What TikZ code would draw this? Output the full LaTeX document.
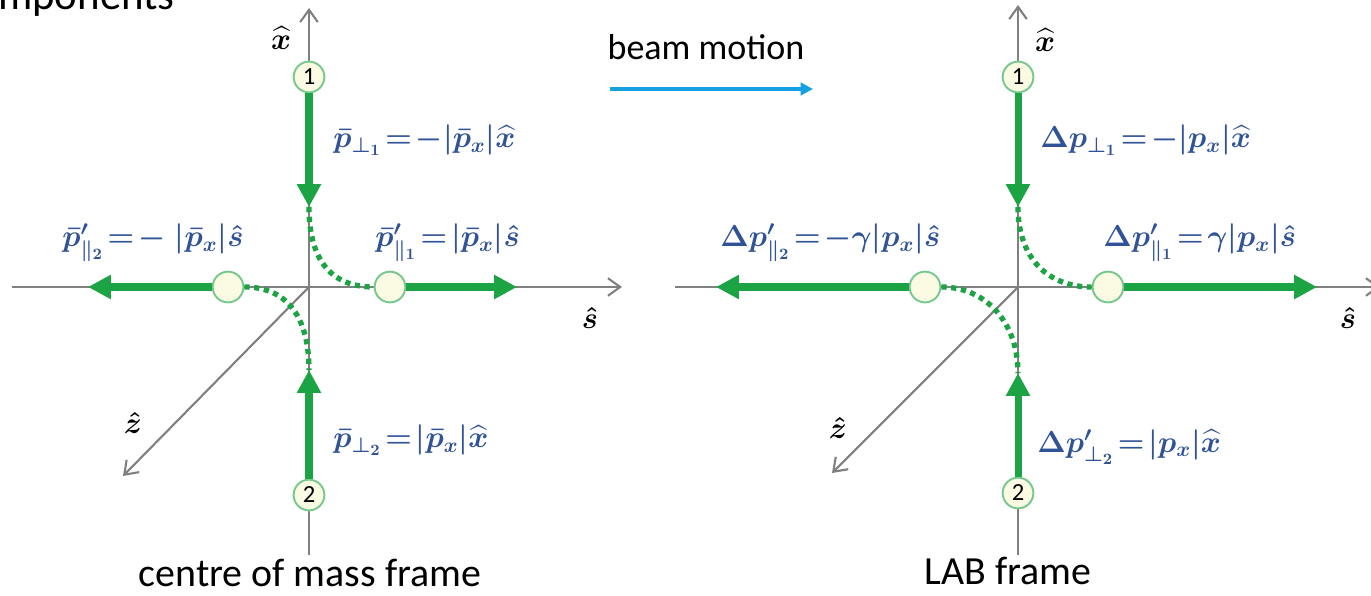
\documentclass[tikz,border=0pt]{standalone}
\usepackage{amsmath}
\usepackage{fontspec}
\setmainfont{Carlito}
\usetikzlibrary{arrows.meta}

\definecolor{pgreen}{RGB}{28,163,68}
\definecolor{lblue}{RGB}{48,82,150}
\definecolor{axisgray}{RGB}{128,128,128}
\definecolor{dotfill}{RGB}{251,250,226}
\definecolor{beamblue}{RGB}{20,160,225}

\tikzset{
  axisline/.style={axisgray, line width=1.2pt, -{Straight Barb[length=7pt,width=10pt]}},
  mom/.style={pgreen, line width=4pt, -{Triangle[length=13pt,width=13pt]}},
  track/.style={pgreen, line width=3pt, dash pattern=on 3pt off 2.6pt},
  particle/.style={circle, draw=pgreen!60, fill=dotfill, line width=1.1pt, minimum size=17.5pt, inner sep=0pt, font=\fontsize{14}{14}\selectfont},
  plabel/.style={lblue, font=\fontsize{18.5}{22}\selectfont\boldmath, anchor=west, inner sep=0pt},
  axlabel/.style={font=\fontsize{19}{22}\selectfont\boldmath, inner sep=0pt},
  framelabel/.style={font=\fontsize{22.7}{26}\selectfont, inner sep=0pt}
}

\begin{document}
\begin{tikzpicture}[x=0.02cm, y=-0.02cm]
\useasboundingbox (0,0) rectangle (1371,595);
\clip (0,0) rectangle (1371,595);

% Title, cut off at the left edge
\node[font=\fontsize{24.4}{28}\selectfont, anchor=base east, inner sep=0pt] (title) at (175,10) {Components};

% Beam direction
\node[font=\fontsize{20.5}{24}\selectfont, inner sep=0pt] (beam) at (706,47) {beam motion};
\coordinate (beamstart) at (610,89);
\coordinate (beamend) at (813,89);
\draw[beamblue, line width=2pt, -{Triangle[length=7pt,width=7pt]}] (beamstart) -- (beamend);

% ---- centre of mass frame ----
\coordinate (LO) at (309,287);
\coordinate (Ltop) at (309,8);
\coordinate (Lbot) at (309,555);
\coordinate (Lleft) at (12,287);
\coordinate (Lright) at (622,287);
\coordinate (Lz) at (123,476);
\draw[axisline] (Lbot) -- (Ltop);
\draw[axisline] (Lleft) -- (Lright);
\draw[axisline] (LO) -- (Lz);
\node[axlabel] (Lxhat) at (281,38) {$\widehat{x}$};
\node[axlabel] (Lshat) at (590,318) {$\hat{s}$};
\node[axlabel] (Lzhat) at (133,423) {$\hat{z}$};

% Particles
\node[particle] (L1) at (309,77) {1};
\node[particle] (L2) at (309,495) {2};
\node[particle] (Lr) at (390,287) {};
\node[particle] (Ll) at (228,287) {};

% Momenta
\coordinate (Ldown) at (309,207);
\coordinate (Lup) at (309,370);
\coordinate (Lrt) at (517,287);
\coordinate (Llt) at (88,287);
\draw[mom] (L1) -- (Ldown);
\draw[mom] (L2) -- (Lup);
\draw[mom] (Lr) -- (Lrt);
\draw[mom] (Ll) -- (Llt);
\draw[track] (Ldown) .. controls +(0,50) and +(-45,0) .. (Lr.west);
\draw[track] (Ll.east) .. controls +(45,0) and +(0,-50) .. (Lup);

% Labels
\node[plabel] (Lp1) at (333,140) {$\bar{p}_{\perp_1}\!=\!-|\bar{p}_x|\widehat{x}$};
\node[plabel] (Lq1) at (375,243) {$\bar{p}'_{\parallel_1}\!=\!|\bar{p}_x|\hat{s}$};
\node[plabel] (Lq2) at (62,243) {$\bar{p}'_{\parallel_2}\!=\!-\;|\bar{p}_x|\hat{s}$};
\node[plabel] (Lp2) at (333,440) {$\bar{p}_{\perp_2}\!=\!|\bar{p}_x|\widehat{x}$};
\node[framelabel] (cmframe) at (310,573) {centre of mass frame};

% ---- LAB frame ----
\coordinate (RO) at (1018,287);
\coordinate (Rtop) at (1018,5);
\coordinate (Rbot) at (1018,555);
\coordinate (Rleft) at (675,287);
\coordinate (Rright) at (1380,287);
\coordinate (Rz) at (832,473);
\draw[axisline] (Rbot) -- (Rtop);
\draw[axisline] (Rleft) -- (Rright);
\draw[axisline] (RO) -- (Rz);
\node[axlabel] (Rxhat) at (1045,40) {$\widehat{x}$};
\node[axlabel] (Rshat) at (1348,318) {$\hat{s}$};
\node[axlabel] (Rzhat) at (838,428) {$\hat{z}$};

% Particles
\node[particle] (R1) at (1018,77) {1};
\node[particle] (R2) at (1018,493) {2};
\node[particle] (Rr) at (1108,287) {};
\node[particle] (Rl) at (925,287) {};

% Momenta
\coordinate (Rdown) at (1018,207);
\coordinate (Rup) at (1018,373);
\coordinate (Rrt) at (1317,287);
\coordinate (Rlt) at (716,287);
\draw[mom] (R1) -- (Rdown);
\draw[mom] (R2) -- (Rup);
\draw[mom] (Rr) -- (Rrt);
\draw[mom] (Rl) -- (Rlt);
\draw[track] (Rdown) .. controls +(0,50) and +(-45,0) .. (Rr.west);
\draw[track] (Rl.east) .. controls +(45,0) and +(0,-50) .. (Rup);

% Labels
\node[plabel] (Rp1) at (1040,140) {$\Delta p_{\perp_1}\!=\!-|p_x|\widehat{x}$};
\node[plabel] (Rq1) at (1103,243) {$\Delta p'_{\parallel_1}\!=\!\gamma|p_x|\hat{s}$};
\node[plabel] (Rq2) at (720,243) {$\Delta p'_{\parallel_2}\!=\!-\gamma|p_x|\hat{s}$};
\node[plabel] (Rp2) at (1037,447) {$\Delta p'_{\perp_2}\!=\!|p_x|\widehat{x}$};
\node[framelabel] (labframe) at (1008,571) {LAB frame};
\end{tikzpicture}
\end{document}
